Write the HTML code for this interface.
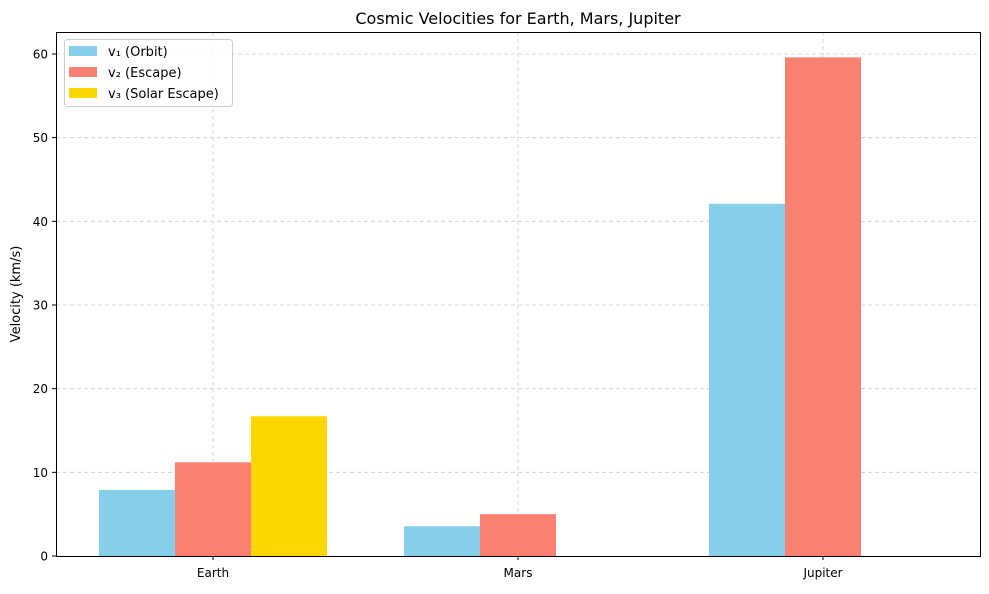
<!DOCTYPE html>
<html><head><meta charset="utf-8"><style>
body{margin:0;background:#fff;font-family:"DejaVu Sans","Liberation Sans",sans-serif;}
svg text{font-family:"DejaVu Sans","Liberation Sans",sans-serif;}
</style></head><body>
<svg id="chart" width="989" height="590" xmlns="http://www.w3.org/2000/svg">
<rect width="989" height="590" fill="#fff"/>
<text x="518" y="24" font-size="16" text-anchor="middle">Cosmic Velocities for Earth, Mars, Jupiter</text>
<g id="grid"></g><g id="bars"></g><g id="axes"></g>
<text transform="translate(20,294) rotate(-90)" font-size="13" text-anchor="middle">Velocity (km/s)</text>
<g>
<rect x="64.5" y="39.5" width="168" height="67" rx="3" fill="#fff" fill-opacity="0.8" stroke="#ccc"/>
<rect x="69" y="46" width="28" height="10" fill="#87CEEB"/>
<text x="108" y="56" font-size="13">v₁ (Orbit)</text>
<rect x="69" y="67" width="28" height="10" fill="#FA8072"/>
<text x="108" y="77" font-size="13">v₂ (Escape)</text>
<rect x="69" y="88" width="28" height="10" fill="#FFD700"/>
<text x="108" y="98" font-size="13">v₃ (Solar Escape)</text>
</g>
</svg>
<script>
const categories=["Earth","Mars","Jupiter"];
const v1=[7.9,3.55,42.1];
const v2=[11.2,5.0,59.6];
const v3=[16.7,0,0];
const yTicks=[0,10,20,30,40,50,60];
const NS="http://www.w3.org/2000/svg";
const L=56,R=980,T=32,B=556;
const y=v=>B-v*(B-54)/60;
const xc=i=>213+i*305;
const bw=76;
function mk(tag,attrs,parent){const e=document.createElementNS(NS,tag);for(const k in attrs)e.setAttribute(k,attrs[k]);parent.appendChild(e);return e;}
const grid=document.getElementById('grid'),bars=document.getElementById('bars'),axes=document.getElementById('axes');
yTicks.forEach(t=>{
 const g=mk('line',{x1:L,x2:R,y1:y(t),y2:y(t),stroke:'#ccc','stroke-dasharray':'4,3','stroke-width':0.8},grid);
 
 
 mk('line',{x1:L-4,x2:L,y1:y(t),y2:y(t),stroke:'#000'},axes);
 const tx=mk('text',{x:L-8,y:y(t)+4.5,'font-size':12,'text-anchor':'end'},axes);tx.textContent=t;
 
 
});
categories.forEach((c,i)=>{
 const g=mk('line',{x1:xc(i),x2:xc(i),y1:T,y2:B,stroke:'#ccc','stroke-dasharray':'4,3','stroke-width':0.8},grid);
 
 
 mk('line',{x1:xc(i),x2:xc(i),y1:B,y2:B+4,stroke:'#000'},axes);
 const tx=mk('text',{x:xc(i),y:B+21,'font-size':12,'text-anchor':'middle'},axes);tx.textContent=c;
 
 
});
[[v1,'#87CEEB',-1,'v1'],[v2,'#FA8072',0,'v2'],[v3,'#FFD700',1,'v3']].forEach(([vals,col,off,nm])=>{
 vals.forEach((v,i)=>{
  const r=mk('rect',{x:xc(i)+off*bw-bw/2,y:y(v),width:bw,height:B-y(v),fill:col},bars);
  
  
 });
});
const fr=mk('rect',{x:L+0.5,y:T+0.5,width:R-L,height:B-T,fill:'none',stroke:'#000'},axes);


</script>
</body></html>
